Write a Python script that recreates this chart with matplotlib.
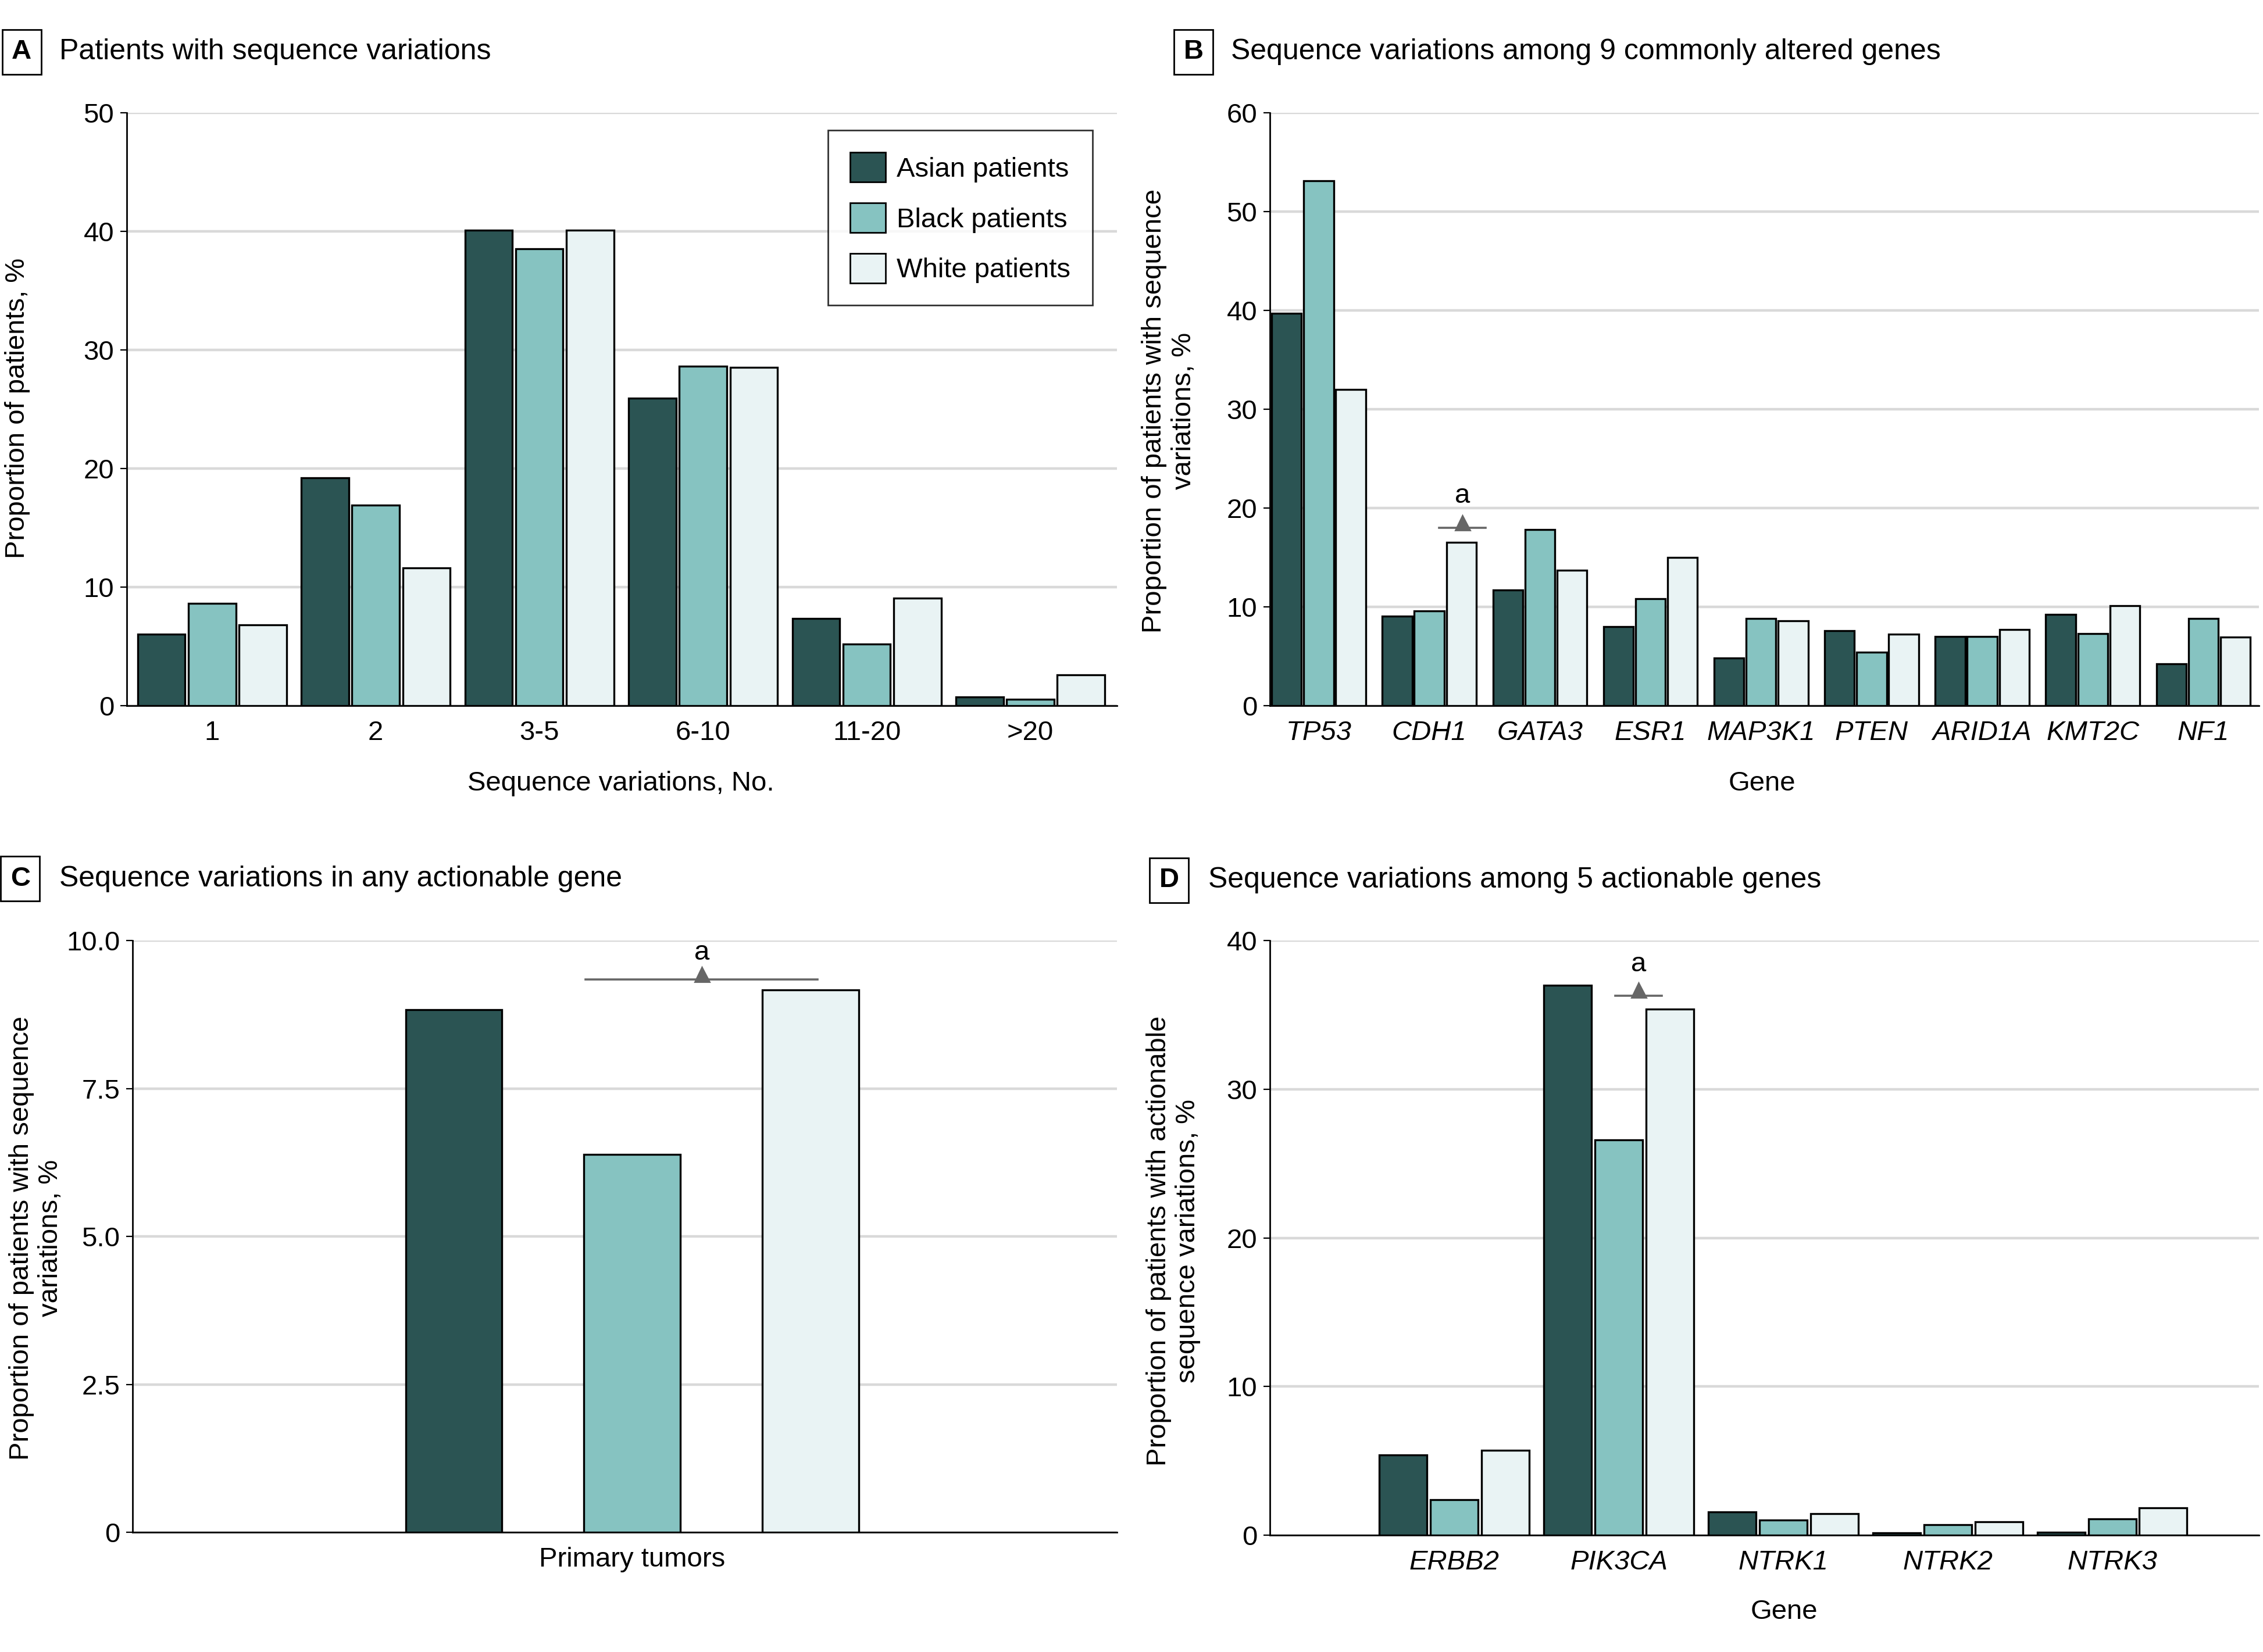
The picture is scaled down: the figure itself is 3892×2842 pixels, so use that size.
import matplotlib
matplotlib.use("Agg")
import matplotlib.pyplot as plt
from matplotlib.patches import Patch
import numpy as np

plt.rcParams["font.family"] = ["Liberation Sans Narrow", "Liberation Sans", "DejaVu Sans"]

groups = ["Asian patients", "Black patients", "White patients"]
colors = ["#2b5453", "#86c3c1", "#e9f3f4"]

# panel A
counts_cats = ["1", "2", "3-5", "6-10", "11-20", ">20"]
counts_asian = [6.0, 19.2, 40.1, 25.9, 7.35, 0.7]
counts_black = [8.6, 16.9, 38.5, 28.6, 5.2, 0.55]
counts_white = [6.8, 11.6, 40.1, 28.5, 9.05, 2.6]

# panel B
genes = ["TP53", "CDH1", "GATA3", "ESR1", "MAP3K1", "PTEN", "ARID1A", "KMT2C", "NF1"]
genes_asian = [39.7, 9.05, 11.7, 8.0, 4.8, 7.6, 7.0, 9.2, 4.2]
genes_black = [53.1, 9.6, 17.8, 10.8, 8.8, 5.4, 7.0, 7.3, 8.8]
genes_white = [32.0, 16.5, 13.7, 15.0, 8.6, 7.2, 7.7, 10.1, 6.9]

# panel C
primary_cat = ["Primary tumors"]
primary_vals = [8.83, 6.39, 9.17]

# panel D
act_genes = ["ERBB2", "PIK3CA", "NTRK1", "NTRK2", "NTRK3"]
act_asian = [5.4, 37.0, 1.55, 0.15, 0.2]
act_black = [2.4, 26.6, 1.0, 0.7, 1.1]
act_white = [5.7, 35.4, 1.45, 0.9, 1.85]

W, H = 1568, 1145
fig = plt.figure(figsize=(19.46, 14.21), dpi=200)


def rect(l, t, r, b):
    return [l / W, 1 - b / H, (r - l) / W, (b - t) / H]


TICK = 17
LAB = 17
EDGE = dict(edgecolor="black", linewidth=1.2)


def style(ax, ymax, step):
    ax.set_ylim(0, ymax)
    ax.set_yticks(np.arange(0, ymax + 0.001, step))
    ax.yaxis.grid(True, color="#d9d9d9", linewidth=1.6)
    ax.set_axisbelow(True)
    for s in ["top", "right"]:
        ax.spines[s].set_visible(False)
    ax.spines["left"].set_linewidth(1.0)
    ax.spines["bottom"].set_linewidth(1.0)
    ax.tick_params(axis="y", length=4, width=0.8, pad=4, labelsize=TICK)
    ax.tick_params(axis="x", length=0, pad=9, labelsize=TICK)


def grouped(ax, series, width, step):
    x = np.arange(len(series[0]))
    for i, vals in enumerate(series):
        ax.bar(x + (i - 1) * step, vals, width, color=colors[i], **EDGE, zorder=2)
    return x


def sig(ax, x0, x1, y, xt, yt, ya):
    ax.plot([x0, x1], [y, y], color="#666666", lw=1.3, zorder=3, clip_on=False)
    ax.plot([xt], [yt], marker="^", color="#666666", markersize=9, zorder=3, clip_on=False)
    ax.text(xt, ya, "a", ha="center", va="center", fontsize=TICK)


def panel_title(x_letter, x_text, y, letter, text):
    fig.text(x_letter / W, 1 - y / H, letter, ha="center", va="center", fontsize=17,
             fontweight="bold",
             bbox=dict(boxstyle="square,pad=0.35", fc="white", ec="black", lw=1.0))
    fig.text(x_text / W, 1 - y / H, text, ha="left", va="center", fontsize=18)


# A
axA = fig.add_axes(rect(88, 78, 774, 489))
x = grouped(axA, [counts_asian, counts_black, counts_white], 0.29, 0.31)
axA.set_xticks(x)
axA.set_xticklabels(counts_cats)
axA.set_xlim(-0.52, 5.53)
style(axA, 50, 10)
handles = [Patch(facecolor=c, edgecolor="black", linewidth=1.0) for c in colors]
leg = axA.legend(handles, groups, loc="upper right", bbox_to_anchor=(0.975, 0.97),
                 fontsize=TICK, frameon=True, fancybox=False, edgecolor="black",
                 handlelength=1.3, handleheight=1.3, borderpad=0.8, labelspacing=0.75,
                 handletextpad=0.4, borderaxespad=0)
leg.get_frame().set_linewidth(1.0)
fig.text(430 / W, 1 - 543 / H, "Sequence variations, No.", ha="center", va="center", fontsize=LAB)
fig.text(12 / W, 1 - 283 / H, "Proportion of patients, %", ha="center", va="center",
         rotation=90, fontsize=LAB)
panel_title(15, 41, 36, "A", "Patients with sequence variations")

# B
axB = fig.add_axes(rect(880, 78, 1565, 489))
x = grouped(axB, [genes_asian, genes_black, genes_white], 0.27, 0.29)
axB.set_xticks(x)
axB.set_xticklabels(genes, style="italic")
axB.set_xlim(-0.44, 8.5)
style(axB, 60, 10)
sig(axB, 1.09, 1.51, 18.0, 1.30, 18.5, 21.2)
fig.text(1221 / W, 1 - 543 / H, "Gene", ha="center", va="center", fontsize=LAB)
fig.text(810 / W, 1 - 285 / H, "Proportion of patients with sequence\nvariations, %",
         ha="center", va="center", rotation=90, fontsize=LAB, linespacing=1.2)
panel_title(827, 853, 36, "B", "Sequence variations among 9 commonly altered genes")

# C
axC = fig.add_axes(rect(92, 652, 774, 1062))
for i, v in enumerate(primary_vals):
    axC.bar([i - 1], [v], 0.54, color=colors[i], **EDGE, zorder=2)
axC.set_xticks([0])
axC.set_xticklabels(primary_cat)
axC.set_xlim(-2.8, 2.72)
style(axC, 10, 2.5)
axC.set_yticklabels(["0", "2.5", "5.0", "7.5", "10.0"])
sig(axC, -0.26, 1.04, 9.34, 0.39, 9.43, 9.8)
fig.text(25 / W, 1 - 858 / H, "Proportion of patients with sequence\nvariations, %",
         ha="center", va="center", rotation=90, fontsize=LAB, linespacing=1.2)
panel_title(14, 41, 609, "C", "Sequence variations in any actionable gene")

# D
axD = fig.add_axes(rect(880, 652, 1565, 1064))
x = grouped(axD, [act_asian, act_black, act_white], 0.29, 0.31)
axD.set_xticks(x)
axD.set_xticklabels(act_genes, style="italic")
axD.set_xlim(-1.12, 4.89)
style(axD, 40, 10)
sig(axD, 0.98, 1.26, 36.3, 1.12, 36.7, 38.4)
fig.text(1236 / W, 1 - 1117 / H, "Gene", ha="center", va="center", fontsize=LAB)
fig.text(813 / W, 1 - 860 / H, "Proportion of patients with actionable\nsequence variations, %",
         ha="center", va="center", rotation=90, fontsize=LAB, linespacing=1.2)
panel_title(810, 837, 610, "D", "Sequence variations among 5 actionable genes")

fig.savefig("out.png", dpi=200, facecolor="white")
